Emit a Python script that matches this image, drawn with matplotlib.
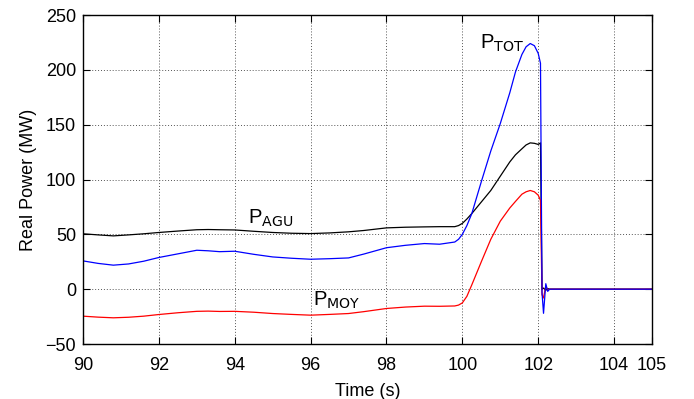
import matplotlib
matplotlib.use("Agg")
import matplotlib.pyplot as plt

plt.rcParams['font.family'] = ['Liberation Sans', 'DejaVu Sans']

# time stamps (s)
t = [90.0, 90.4, 90.8, 91.2, 91.6, 92.0, 92.5, 93.0, 93.3, 93.6, 94.0, 94.5, 95.0,
     95.5, 96.0, 96.5, 97.0, 97.4, 98.0, 98.5, 99.0, 99.4, 99.8, 99.9, 100.0, 100.12,
     100.25, 100.5, 100.75, 101.0, 101.25, 101.4, 101.57, 101.68, 101.79, 101.9,
     102.0, 102.06, 102.1, 102.14, 102.2, 102.25, 102.3, 103.0, 104.0, 105.0]

p_agu = [50.5, 49.5, 48.6, 49.5, 50.5, 51.7, 53.0, 54.2, 54.4, 54.2, 54.0, 52.8, 51.7,
         51.0, 50.7, 51.3, 52.3, 53.5, 55.9, 56.5, 56.8, 57.0, 57.0, 58.0, 60.0, 64.0,
         69.0, 79.5, 90.0, 103.0, 116.0, 122.5, 128.0, 131.5, 133.4, 133.0,
         132.0, 133.4, 0.0, 1.0, -1.0, 0.5, 0.0, 0.0, 0.0, 0.0]

p_moy = [-24.6, -25.5, -26.1, -25.6, -24.6, -23.1, -21.5, -20.2, -20.0, -20.3, -20.2, -21.0, -22.2,
         -23.0, -23.7, -23.0, -22.2, -20.5, -17.6, -16.3, -15.5, -15.6, -15.3, -14.5, -12.5, -6.5,
         4.0, 25.0, 45.5, 62.0, 74.0, 80.0, 86.6, 88.8, 90.0, 88.8,
         85.7, 81.0, -5.0, -8.0, 3.0, -1.0, 0.0, 0.0, 0.0, 0.0]

p_tot = [25.8, 23.5, 21.9, 23.0, 25.5, 28.9, 32.2, 35.5, 35.0, 34.2, 34.6, 31.8, 29.4,
         28.2, 27.3, 27.8, 28.5, 32.0, 37.8, 40.0, 41.6, 41.0, 43.0, 45.5, 50.0, 58.0,
         69.0, 98.0, 126.0, 151.0, 179.0, 198.0, 214.0, 221.0, 224.0, 222.0,
         215.0, 206.0, -3.0, -22.0, 5.0, -2.0, 0.0, 0.0, 0.0, 0.0]

fig = plt.figure(figsize=(6.94, 3.99), dpi=100)
ax = fig.add_axes([0.1196, 0.1378, 0.8199, 0.8246])

ax.plot(t, p_agu, color='black', lw=0.9)
ax.plot(t, p_moy, color='red', lw=0.9)
ax.plot(t, p_tot, color='blue', lw=0.9)

ax.set_xlim(90, 105)
ax.set_ylim(-50, 250)
ax.set_xticks([90, 92, 94, 96, 98, 100, 102, 104, 105])
ax.set_yticks([-50, 0, 50, 100, 150, 200, 250])
ax.grid(True, color='#555555', linestyle=(0, (1, 2)), linewidth=0.7)
ax.tick_params(direction='in', top=True, right=True, labelsize=13, length=5)
ax.tick_params(axis='x', pad=9)
ax.tick_params(axis='y', pad=5)
for s in ax.spines.values():
    s.set_linewidth(1.0)

ax.set_xlabel('Time (s)', fontsize=13, labelpad=7)
ax.set_ylabel('Real Power (MW)', fontsize=13, labelpad=6)

ax.text(100.47, 224, r'P$_{\mathrm{TOT}}$', fontsize=14.5, va='center', ha='left')
ax.text(94.35, 65, r'P$_{\mathrm{AGU}}$', fontsize=14.5, va='center', ha='left')
ax.text(96.06, -10, r'P$_{\mathrm{MOY}}$', fontsize=14.5, va='center', ha='left')

fig.savefig('out.png', dpi=100)
